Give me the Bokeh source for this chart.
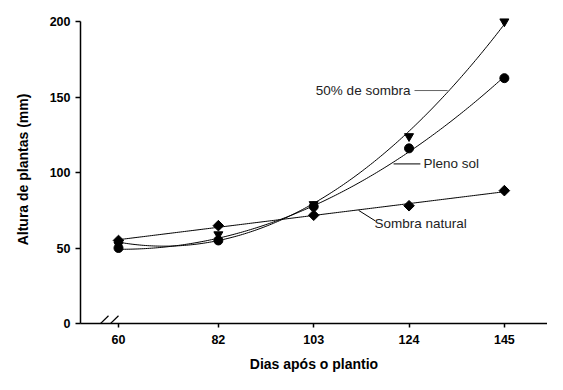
import numpy as np
from bokeh.plotting import figure
from bokeh.models import Range1d, FixedTicker, Arrow, Label
from bokeh.embed import file_html
from bokeh.resources import INLINE

# ---- data ----
days = [60, 82, 103, 124, 145]
pleno_sol = [50, 55, 77.5, 116, 162.5]
sombra_50 = [52, 59, 79, 124, 200]
sombra_natural = [55, 64.8, 71.7, 78, 88]
x_ticks = [60, 82, 103, 124, 145]
y_ticks = [0, 50, 100, 150, 200]

FONT = "Liberation Sans"

p = figure(width=547, height=374, output_backend="svg", toolbar_location=None,
           x_range=Range1d(51.63, 154.5), y_range=Range1d(0, 204),
           min_border_left=80, min_border_right=0, min_border_top=15,
           min_border_bottom=0)
p.outline_line_color = None
p.grid.visible = False
p.background_fill_color = "white"
p.border_fill_color = "white"

# regression curves (quadratic / linear fits of the data)
xs = np.linspace(min(days), max(days), 200)
for ys, deg in ((sombra_50, 2), (pleno_sol, 2), (sombra_natural, 1)):
    coef = np.polyfit(days, ys, deg)
    p.line(xs, np.polyval(coef, xs), line_color="black", line_width=1)

p.scatter(days, sombra_50, marker="inverted_triangle", size=9, color="black")
p.scatter(days, sombra_natural, marker="square", angle=np.pi / 4, size=7.5, color="black")
p.scatter(days, pleno_sol, marker="circle", size=9, color="black")

# leader lines
p.line([125.2, 132.5], [154.3, 154.3], line_color="#666666", line_width=1)
p.line([120.6, 126.5], [105.7, 105.7], line_color="black", line_width=1)
p.line([112.9, 116.6], [74.9, 67.9], line_color="black", line_width=1)

p.add_layout(Label(x=124.3, y=154.3, text="50% de sombra", text_align="right",
                   text_baseline="middle", text_font=FONT, text_font_size="13.5px",
                   text_color="#222222"))
p.add_layout(Label(x=127.2, y=105.7, text="Pleno sol", text_align="left",
                   text_baseline="middle", text_font=FONT, text_font_size="13.5px",
                   text_color="#222222"))
p.add_layout(Label(x=116.4, y=66.0, text="Sombra natural", text_align="left",
                   text_baseline="middle", text_font=FONT, text_font_size="13.5px",
                   text_color="#222222"))

# axis break marks
for x0, x1 in ((54.3, 57.8), (56.5, 60.0)):
    p.add_layout(Arrow(end=None, x_start=x0, y_start=-5.1, x_end=x1, y_end=5.1,
                       line_color="black", line_width=1.2))

for ax in (p.xaxis[0], p.yaxis[0]):
    ax.axis_line_color = "black"
    ax.axis_line_width = 1.5
    ax.major_tick_line_color = "black"
    ax.major_tick_line_width = 1.5
    ax.major_tick_in = 0
    ax.minor_tick_line_color = None
    ax.major_label_text_font = FONT
    ax.major_label_text_font_style = "bold"
    ax.major_label_text_font_size = "12.5px"
    ax.major_label_text_color = "black"
    ax.axis_label_text_font = FONT
    ax.axis_label_text_font_style = "bold"
    ax.axis_label_text_font_size = "14px"
    ax.axis_label_text_color = "black"

p.xaxis.ticker = FixedTicker(ticks=x_ticks)
p.yaxis.ticker = FixedTicker(ticks=y_ticks)
p.yaxis.bounds = (0, 200)
p.xaxis.major_tick_out = 4
p.yaxis.major_tick_out = 5
p.xaxis.major_label_standoff = 7
p.yaxis.major_label_standoff = 5
p.xaxis.axis_label = "Dias após o plantio"
p.yaxis.axis_label = "Altura de plantas (mm)"
p.xaxis.axis_label_standoff = 9
p.yaxis.axis_label_standoff = 16

open("out.html", "w").write(file_html(p, INLINE))
